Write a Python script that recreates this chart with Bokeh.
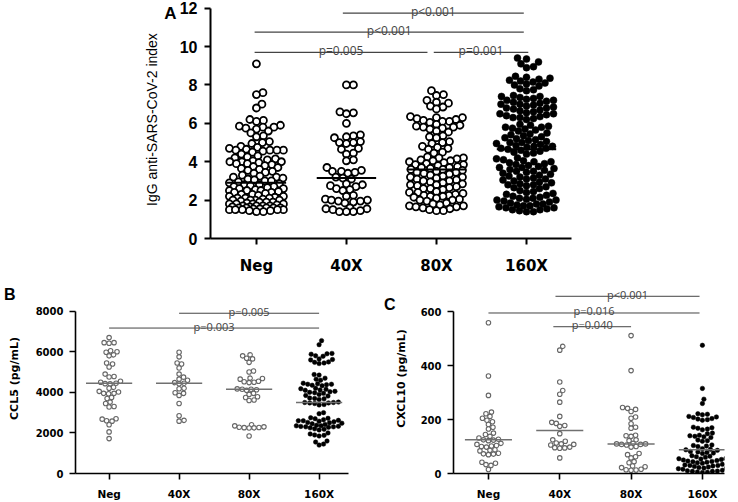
import numpy as np
from bokeh.plotting import figure
from bokeh.layouts import column, row
from bokeh.models import Range1d, FixedTicker, Label, LinearAxis
from bokeh.embed import file_html
from bokeh.resources import INLINE

cats = ["Neg", "40X", "80X", "160X"]

# ---------------- Panel A: IgG anti-SARS-CoV-2 index ----------------
igg_neg = [9.1, 7.6, 7.5, 7.0, 6.8, 6.2, 6.15, 6.1, 5.9, 5.85, 5.8, 5.8, 5.75, 5.7, 5.6, 5.5, 5.35, 5.3,
           5.05, 5.0, 4.95, 4.8, 4.75, 4.7, 4.65, 4.6, 4.6, 4.6, 4.6, 4.55, 4.5, 4.4, 4.3, 4.25, 4.2, 4.15,
           4.1, 4.05, 4.0, 4.0, 4.0, 3.95, 3.9, 3.9, 3.85, 3.8, 3.75, 3.7, 3.65, 3.6, 3.55, 3.5, 3.45, 3.4,
           3.3, 3.25, 3.2, 3.2, 3.15, 3.1, 3.05, 3.0, 3.0, 2.95, 2.9,
           2.85, 2.8, 2.8, 2.75, 2.7, 2.7, 2.65, 2.6, 2.6, 2.55, 2.5, 2.5, 2.5, 2.45, 2.4, 2.4, 2.35, 2.3,
           2.3, 2.25, 2.2, 2.2, 2.15, 2.1, 2.1, 2.1, 2.05, 2.0, 2.0, 2.0, 2.0, 1.95, 1.9, 1.9, 1.9, 1.85,
           1.8, 1.8, 1.8, 1.8, 1.75, 1.7, 1.7, 1.7, 1.7, 1.65, 1.65, 1.6, 1.6, 1.6, 1.6, 1.6, 1.55, 1.55,
           1.5, 1.5, 1.5, 1.5, 1.5, 1.45, 1.45, 1.4, 1.4]
igg_40x = [8.0, 8.0, 6.6, 6.55, 6.5, 6.0, 5.4, 5.35, 5.3, 5.25, 5.05, 5.0, 5.0, 4.95, 4.7, 4.65, 4.45,
           4.4, 4.1, 4.05, 3.7, 3.55, 3.5, 3.5, 3.45, 3.4, 3.2, 3.15, 3.1,
           2.85, 2.8, 2.75, 2.7, 2.6, 2.55, 2.5, 2.25, 2.2, 2.05, 2.0, 2.0, 1.95, 1.95, 1.9, 1.85, 1.6,
           1.55, 1.55, 1.5, 1.45, 1.4, 1.4, 1.4]
igg_80x = [7.7, 7.5, 7.45, 7.2, 7.1, 7.05, 6.9, 6.85, 6.75, 6.35, 6.3, 6.3, 6.25, 6.2, 6.15, 6.1, 6.1,
           6.05, 5.95, 5.9, 5.85, 5.8, 5.8, 5.75, 5.7, 5.6, 5.55, 5.35, 5.3, 5.25, 5.05, 5.0, 4.95, 4.8,
           4.75, 4.7, 4.65, 4.5, 4.45, 4.25, 4.2, 4.2, 4.15, 4.1, 4.05, 4.05, 4.0, 3.95, 3.9, 3.85, 3.85,
           3.8, 3.75, 3.7, 3.7, 3.65, 3.6, 3.6,
           3.55, 3.5, 3.45, 3.45, 3.4, 3.35, 3.3, 3.25, 3.2, 3.2, 3.15, 3.1, 3.05, 3.0, 3.0, 2.95, 2.9,
           2.85, 2.8, 2.8, 2.75, 2.7, 2.65, 2.6, 2.6, 2.55, 2.45, 2.4, 2.4, 2.35, 2.3, 2.25, 2.25, 2.2,
           2.2, 2.15, 2.1, 2.05, 2.0, 2.0, 1.95, 1.85, 1.8, 1.75, 1.7, 1.7, 1.65, 1.65, 1.6, 1.55, 1.5,
           1.45, 1.45]
igg_160x = [9.4, 9.35, 9.2, 9.1, 8.95, 8.9, 8.45, 8.4, 8.35, 8.3, 8.25, 8.2, 8.15, 8.1, 8.05, 8.0, 7.95,
            7.8, 7.75, 7.7, 7.45, 7.4, 7.4, 7.35, 7.3, 7.25, 7.2, 7.2, 7.15, 7.1, 7.05, 7.0, 7.0, 6.95,
            6.9, 6.85, 6.8, 6.8, 6.75, 6.7, 6.65, 6.6, 6.55, 6.5, 6.5, 6.45, 6.4, 6.35, 6.3, 6.3, 6.25,
            6.2, 5.95, 5.9, 5.85, 5.8, 5.8, 5.75, 5.7, 5.65, 5.6, 5.5, 5.45, 5.4, 5.35, 5.3, 5.25, 5.2,
            5.15, 5.1, 5.05, 5.0, 5.0, 4.95, 4.9, 4.85, 4.8, 4.8, 4.75, 4.7, 4.7, 4.65,
            4.6, 4.55, 4.5, 4.45, 4.4, 4.2, 4.15, 4.1, 4.05, 4.0, 4.0, 3.95, 3.9, 3.85, 3.8, 3.75, 3.7,
            3.7, 3.65, 3.6, 3.55, 3.5, 3.5, 3.45, 3.4, 3.35, 3.3, 3.25, 3.2, 3.15, 3.1, 3.1, 3.05, 3.0,
            2.95, 2.9, 2.85, 2.8, 2.8, 2.75, 2.7, 2.65, 2.6, 2.5, 2.45, 2.4, 2.35, 2.3, 2.25, 2.2, 2.15,
            2.1, 2.1, 2.05, 2.0, 2.0, 1.95, 1.9, 1.85, 1.8, 1.8, 1.75, 1.7, 1.7, 1.65, 1.6, 1.6, 1.55,
            1.5, 1.5, 1.45, 1.4, 1.4]
igg_medians = [2.9, 3.15, 3.6, 4.65]
igg_sig_x0 = [0.96, -0.02, -0.02, 1.97]
igg_sig_x1 = [2.97, 2.97, 1.90, 3.02]
igg_sig_y = [11.74, 10.75, 9.70, 9.70]
igg_sig_text = ["p<0.001", "p<0.001", "p=0.005", "p=0.001"]

# ---------------- Panel B: CCL5 ----------------
ccl5_neg = [6700, 6450, 6450, 6420, 6050, 6000, 5980, 5850, 5800, 5450, 5400, 5250, 4900, 4780, 4760,
            4550, 4500, 4450, 4430, 4420, 4250, 4200, 4050, 4020, 3950, 3950, 3930, 3750, 3700, 3520,
            3450, 3300, 3280, 2700, 2680, 2600, 2580, 2400, 2050, 1720]
ccl5_40x = [5980, 5750, 5450, 5400, 5200, 4900, 4750, 4650, 4600, 4480, 4450, 4420, 4200, 4180, 3980,
            3950, 3850, 3450, 2850, 2620, 2580]
ccl5_80x = [5850, 5800, 5680, 5650, 5480, 5050, 5000, 4700, 4680, 4650, 4550, 4520, 4500, 4480, 4170,
            4150, 4150, 4130, 4100, 3950, 3900, 3780, 3750, 3620, 3600, 2400, 2350, 2300, 2280, 2270,
            2260, 2250, 2240, 1850]
ccl5_160x = [6550, 6350, 5920, 5900, 5880, 5800, 5780, 5650, 5620, 5600, 5500, 5480, 5450, 5420, 4880,
             4850, 4700, 4650, 4600, 4450, 4420, 4400, 4400, 4380, 4350, 4330, 4200, 4180, 4150, 4120,
             4100, 4050, 4030, 4000, 3980, 3950, 3900, 3850, 3820, 3720, 3700, 3680, 3650, 3520, 3500,
             3500, 3480, 3480, 3450, 3400, 3380, 3000, 2950, 2750, 2720, 2700, 2650, 2620, 2600, 2600,
             2580, 2550, 2520, 2500, 2480, 2450, 2420, 2380, 2350, 2350, 2330, 2320, 2300, 2300, 2280,
             2250, 2200, 2180, 2150, 2000, 1950, 1900, 1880, 1850, 1600, 1550, 1450, 1400]
ccl5_medians = [4450, 4450, 4150, 3500]
ccl5_sig_x0 = [1.0, 0.0]
ccl5_sig_x1 = [3.0, 3.0]
ccl5_sig_y = [7900, 7170]
ccl5_sig_text = ["p=0.005", "p=0.003"]

# ---------------- Panel C: CXCL10 ----------------
cxcl10_neg = [560, 362, 290, 228, 222, 212, 205, 198, 192, 182, 172, 165, 150, 145, 138, 132, 127, 125,
              124, 122, 112, 108, 104, 102, 100, 98, 88, 86, 84, 75, 73, 72, 70, 42, 38, 33, 30, 15]
cxcl10_40x = [472, 458, 340, 308, 294, 265, 212, 190, 186, 178, 175, 148, 125, 120, 113, 110, 108, 106,
              98, 96, 95, 94, 58]
cxcl10_80x = [512, 382, 245, 242, 238, 230, 210, 205, 185, 172, 168, 142, 140, 138, 125, 122, 112, 110,
              110, 108, 108, 106, 100, 98, 74, 70, 62, 58, 44, 40, 28, 25, 22, 16, 14, 13, 12]
cxcl10_160x = [476, 316, 276, 260, 222, 220, 218, 212, 210, 208, 204, 202, 200, 198, 172, 170, 168, 165,
               162, 150, 148, 142, 140, 138, 136, 134, 124, 122, 120, 106, 104, 102, 100, 92, 90, 88, 86,
               82, 80, 78, 76, 74, 66, 64, 62, 60, 56, 55, 54, 52, 50, 48, 46, 45, 44, 42, 40, 38, 34,
               32, 30, 30, 28, 26, 24, 22, 20, 20, 18, 16, 12, 10, 9, 8, 8, 6, 5, 4]
cxcl10_medians = [125, 160, 110, 88]
cxcl10_sig_x0 = [0.94, 0.0, 0.91]
cxcl10_sig_x1 = [2.96, 2.96, 2.0]
cxcl10_sig_y = [658, 596, 545]
cxcl10_sig_text = ["p<0.001", "p=0.016", "p=0.040"]


def swarm(vals, ppu, d, wmax):
    """Beeswarm offsets (pixels) so that markers of diameter d do not overlap, clamped to +-wmax."""
    ys = np.asarray(vals, dtype=float) * ppu
    order = np.argsort(ys)
    steps = np.arange(0.5, wmax + 0.01, 0.5)
    cands = np.concatenate([[0.0], np.ravel(np.column_stack([steps, -steps]))])
    px, py = [], []
    out = np.zeros(len(ys))
    for i in order:
        y = ys[i]
        x = 0.0
        if px:
            ax = np.array(px)
            ay = np.array(py)
            m = np.abs(ay - y) < d
            if m.any():
                nx, ny = ax[m], ay[m]
                dist = np.sqrt((cands[:, None] - nx[None, :]) ** 2 + (y - ny[None, :]) ** 2).min(axis=1)
                ok = np.where(dist >= d)[0]
                x = cands[ok[0]] if len(ok) else cands[np.argmax(dist)]
        out[i] = x
        px.append(x)
        py.append(y)
    return out


def make_panel(groups, medians, sx0, sx1, sy, stext, letter, letter_dy, letter_stand, *, width, height,
               mbl, mbr, mbt, mbb, xr, yr, ybounds, yticks, ylabel, label_on_letter, d, wmax, size,
               open_color, open_lw, med_half, med_color, med_w, axis_w, tick_font, tick_size,
               xtick_font, xtick_size, ylab_font, ylab_size, ylab_style, ylab_standoff, sig_size,
               sig_color, sig_lw, xstand, letter_size, ytick_stand):
    p = figure(width=width, height=height, x_range=Range1d(*xr), y_range=Range1d(*yr),
               output_backend="svg", toolbar_location=None,
               min_border_left=mbl, min_border_right=mbr, min_border_top=mbt, min_border_bottom=mbb)
    p.grid.visible = False
    p.outline_line_color = None
    p.background_fill_color = "white"
    p.border_fill_color = "white"

    fw = width - mbl - mbr
    fh = height - mbt - mbb
    ppc = fw / (xr[1] - xr[0])
    ppu = fh / (yr[1] - yr[0])

    for i, vals in enumerate(groups):
        off = swarm(vals, ppu, d, wmax[i])
        xs = i + off / ppc
        if i == 3:
            p.scatter(xs, vals, marker="circle", size=size, fill_color="black",
                      line_color="black", line_width=0.5)
        else:
            p.scatter(xs, vals, marker="circle", size=size, fill_color="white",
                      line_color=open_color, line_width=open_lw)
    idx = np.arange(len(medians))
    p.segment(x0=idx - med_half, x1=idx + med_half, y0=medians, y1=medians,
              line_color=med_color, line_width=med_w)

    p.segment(x0=sx0, x1=sx1, y0=sy, y1=sy, line_color=sig_color, line_width=sig_lw)
    for a, b, y, t in zip(sx0, sx1, sy, stext):
        p.add_layout(Label(x=(a + b) / 2, y=y, text=t, text_align="center",
                           text_baseline="alphabetic", y_offset=2, text_font="Open Sans",
                           text_font_size=sig_size, text_color=sig_color))

    xa = p.xaxis[0]
    xa.ticker = FixedTicker(ticks=list(range(len(cats))))
    xa.major_label_overrides = {i: c for i, c in enumerate(cats)}
    xa.axis_line_width = axis_w
    xa.major_tick_line_width = axis_w
    xa.major_tick_out = 6
    xa.major_tick_in = 0
    xa.minor_tick_out = 0
    xa.minor_tick_in = 0
    xa.major_label_text_font = xtick_font
    xa.major_label_text_font_style = "bold"
    xa.major_label_text_font_size = xtick_size
    xa.major_label_text_color = "black"
    xa.major_label_standoff = xstand

    ya = p.yaxis[0]
    ya.ticker = FixedTicker(ticks=yticks)
    ya.bounds = ybounds
    ya.axis_line_width = axis_w
    ya.major_tick_line_width = axis_w
    ya.major_tick_out = 6
    ya.major_tick_in = 0
    ya.minor_tick_out = 0
    ya.minor_tick_in = 0
    ya.major_label_text_font = tick_font
    ya.major_label_text_font_style = "bold"
    ya.major_label_text_font_size = tick_size
    ya.major_label_text_color = "black"
    ya.major_label_standoff = ytick_stand

    # panel letter: a tick-less, line-less outer left axis whose single tick label is the letter
    ly = round(yr[1] - letter_dy / ppu, 3)
    lax = LinearAxis(ticker=FixedTicker(ticks=[ly]), major_label_overrides={ly: letter},
                     axis_line_color=None, major_tick_line_color=None, minor_tick_line_color=None,
                     major_tick_out=0, major_tick_in=0, minor_tick_out=0, minor_tick_in=0,
                     major_label_standoff=letter_stand, major_label_text_font="Liberation Sans",
                     major_label_text_font_style="bold", major_label_text_font_size=letter_size,
                     major_label_text_color="black")
    target = lax if label_on_letter else ya
    target.axis_label = ylabel
    target.axis_label_text_font = ylab_font
    target.axis_label_text_font_size = ylab_size
    target.axis_label_text_font_style = ylab_style
    target.axis_label_text_color = "black"
    target.axis_label_standoff = ylab_standoff
    p.add_layout(lax, "left")
    return p


pA = make_panel([igg_neg, igg_40x, igg_80x, igg_160x], igg_medians,
                igg_sig_x0, igg_sig_x1, igg_sig_y, igg_sig_text, "A", 13, 0,
                width=600, height=283, mbl=210, mbr=29, mbt=0, mbb=45,
                xr=(-0.51, 3.5), yr=(0, 12.4), ybounds=(0, 12), yticks=[0, 2, 4, 6, 8, 10, 12],
                ylabel="IgG anti-SARS-CoV-2 index", label_on_letter=True,
                d=6.6, wmax=[27, 21, 27, 30], size=7,
                open_color="black", open_lw=1.8, med_half=0.33, med_color="black", med_w=2,
                axis_w=2, tick_font="Liberation Sans", tick_size="16px",
                xtick_font="DejaVu Sans", xtick_size="15px", ylab_font="Liberation Sans",
                ylab_size="14px", ylab_style="normal", ylab_standoff=1,
                sig_size="12px", sig_color="#444444", sig_lw=1.2, xstand=12,
                letter_size="17px", ytick_stand=7)

pB = make_panel([ccl5_neg, ccl5_40x, ccl5_80x, ccl5_160x], ccl5_medians,
                ccl5_sig_x0, ccl5_sig_x1, ccl5_sig_y, ccl5_sig_text, "B", 6, -11,
                width=380, height=219, mbl=72, mbr=32, mbt=0, mbb=27,
                xr=(-0.48, 3.42), yr=(0, 9366), ybounds=(0, 8000), yticks=[0, 2000, 4000, 6000, 8000],
                ylabel="CCL5 (pg/mL)", label_on_letter=False,
                d=4.6, wmax=[14, 14, 18, 23], size=4.5,
                open_color="#666666", open_lw=1.1, med_half=0.33, med_color="#707070", med_w=1.5,
                axis_w=1.6, tick_font="DejaVu Sans", tick_size="10px",
                xtick_font="DejaVu Sans", xtick_size="10.5px", ylab_font="DejaVu Sans",
                ylab_size="11px", ylab_style="bold", ylab_standoff=12,
                sig_size="11px", sig_color="#444444", sig_lw=1.0, xstand=8,
                letter_size="16px", ytick_stand=6)

pC = make_panel([cxcl10_neg, cxcl10_40x, cxcl10_80x, cxcl10_160x], cxcl10_medians,
                cxcl10_sig_x0, cxcl10_sig_x1, cxcl10_sig_y, cxcl10_sig_text, "C", 21, -4,
                width=358, height=219, mbl=73, mbr=14, mbt=0, mbb=25,
                xr=(-0.49, 3.31), yr=(0, 705.5), ybounds=(0, 600), yticks=[0, 200, 400, 600],
                ylabel="CXCL10 (pg/mL)", label_on_letter=False,
                d=4.6, wmax=[14, 14, 18, 24], size=4.5,
                open_color="#666666", open_lw=1.1, med_half=0.33, med_color="#707070", med_w=1.5,
                axis_w=1.6, tick_font="DejaVu Sans", tick_size="10px",
                xtick_font="DejaVu Sans", xtick_size="10.5px", ylab_font="DejaVu Sans",
                ylab_size="11px", ylab_style="bold", ylab_standoff=10,
                sig_size="11px", sig_color="#444444", sig_lw=1.0, xstand=8,
                letter_size="16px", ytick_stand=6)

layout = column(pA, row(pB, pC))
open("out.html", "w").write(file_html(layout, INLINE))
